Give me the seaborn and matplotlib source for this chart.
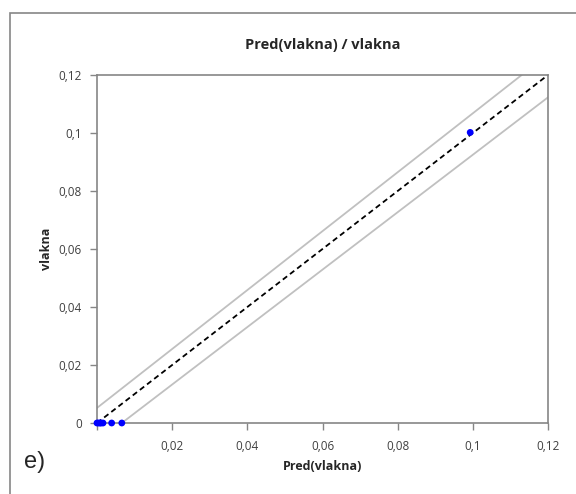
import numpy as np
import pandas as pd
import seaborn as sns
import matplotlib.pyplot as plt
from matplotlib.patches import Rectangle
from matplotlib.ticker import FuncFormatter

# observed vs predicted values
pred = [0.0, 0.0004, 0.0008, 0.0011, 0.0016, 0.0039, 0.0066, 0.0993]
obs = [0.0, 0.0, 0.0, 0.0, 0.0, 0.0, 0.0, 0.1002]

# reference line and confidence bounds
diag_x = [0.0, 0.12]
diag_y = [0.0, 0.12]
upper_x = [0.0, 0.113]
upper_y = [0.0052, 0.12]
lower_x = [0.0066, 0.12]
lower_y = [0.0, 0.1123]

ticks = [0, 0.02, 0.04, 0.06, 0.08, 0.1, 0.12]

sns.set_style("white")
plt.rcParams['font.family'] = ['Open Sans', 'DejaVu Sans']

data = pd.DataFrame({'Pred(vlakna)': pred, 'vlakna': obs})

fig = plt.figure(figsize=(5.76, 4.94), dpi=100)
ax = fig.add_axes([97/576, 1-423/494, (548-97)/576, (423-75)/494])

grey = '#c0c0c0'
ax.plot(upper_x, upper_y, color=grey, lw=1.3, zorder=1)
ax.plot(lower_x, lower_y, color=grey, lw=1.3, zorder=1)
ax.plot(diag_x, diag_y, color='black', lw=1.3, ls=(0, (3, 2)), zorder=2)
sns.scatterplot(data=data, x='Pred(vlakna)', y='vlakna', color='#0000ff',
                s=24, edgecolor='none', ax=ax, zorder=3, clip_on=False)

ax.set_xlim(0, 0.12)
ax.set_ylim(0, 0.12)
ax.set_xticks(ticks)
ax.set_yticks(ticks)

def fmt(v, pos):
    if abs(v) < 1e-9:
        return '0'
    return ('%g' % round(v, 2)).replace('.', ',')

ax.xaxis.set_major_formatter(FuncFormatter(lambda v, p: '' if abs(v) < 1e-9 else fmt(v, p)))
ax.yaxis.set_major_formatter(FuncFormatter(fmt))

for s in ax.spines.values():
    s.set_color('#868686')
    s.set_linewidth(1.2)
ax.tick_params(axis='both', which='major', direction='out', length=5, width=1,
               color='#868686', labelsize=8.5, labelcolor='#404040', bottom=True, left=True)
ax.tick_params(axis='x', pad=7)
ax.tick_params(axis='y', pad=6)

ax.set_xlabel('Pred(vlakna)', fontsize=9, fontweight='bold', labelpad=5)
ax.set_ylabel('vlakna', fontsize=9, fontweight='bold', labelpad=4)
ax.set_title('Pred(vlakna) / vlakna', fontsize=10.5, fontweight='bold', pad=19)
fig.text(35/576, 1-462/494, 'e)', ha='center', va='center', fontsize=17, family='Liberation Sans')

fig.patches.append(Rectangle((10/576, -0.1), 1.2, 1 - 13/494 + 0.1, transform=fig.transFigure,
                             fill=False, edgecolor='#868686', lw=1.2, zorder=0))

fig.savefig('out.png', dpi=100)
